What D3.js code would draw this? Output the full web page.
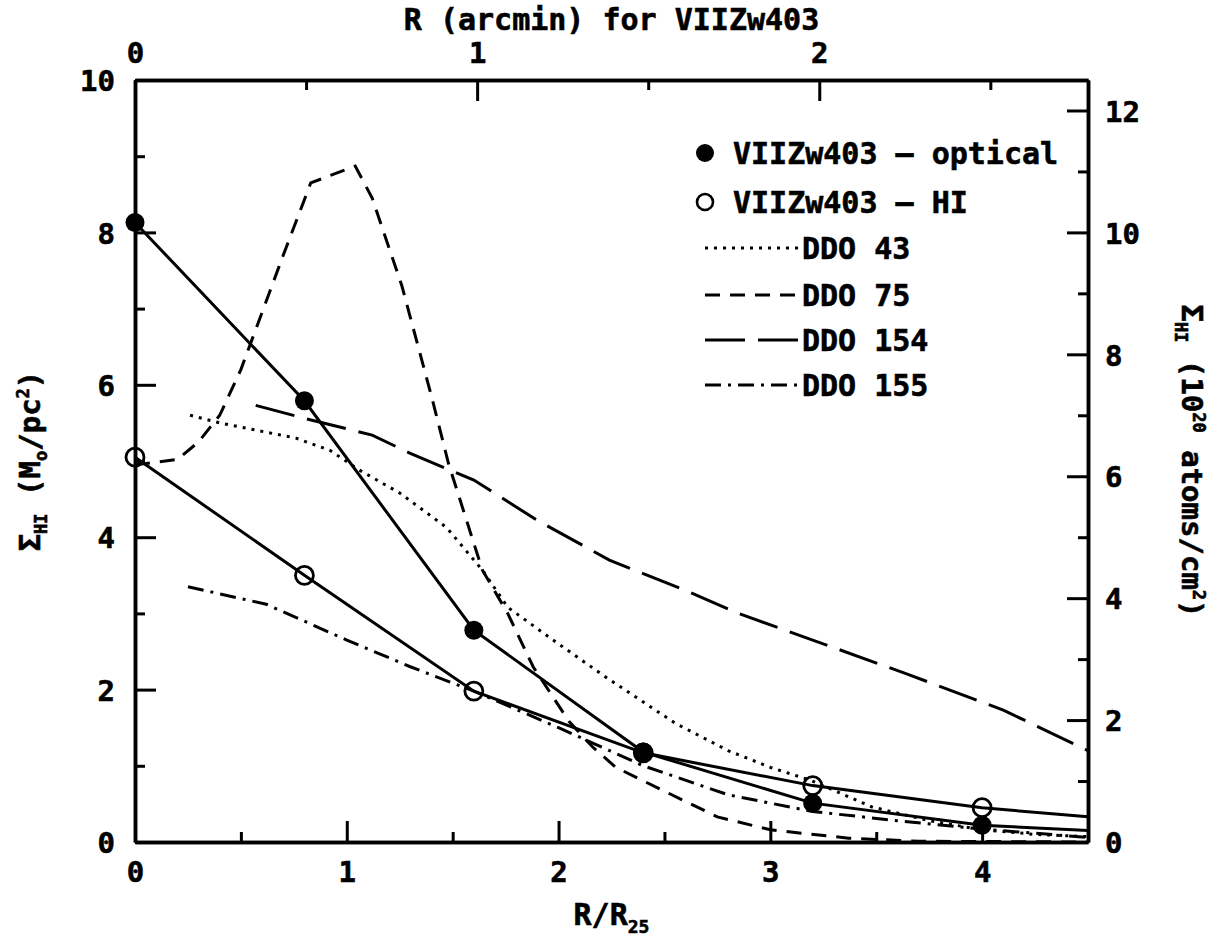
<!DOCTYPE html>
<html><head><meta charset="utf-8">
<script src="https://cdn.jsdelivr.net/npm/d3@7"></script>
<style>
body{margin:0;background:#fff;}
svg text{font-family:"DejaVu Sans Mono",monospace;font-weight:bold;fill:#000;stroke:#000;stroke-width:0.6px;}
</style></head><body>
<svg id="chart" width="1220" height="941"></svg>
<script>
// ---------------- data ----------------
// VIIZw403 optical (filled circles), R/R25 and Sigma_HI (Msun/pc^2)
const opticalR   = [0, 0.8, 1.6, 2.4, 3.2, 4.0, 4.5];
const opticalVal = [8.13, 5.79, 2.78, 1.18, 0.51, 0.22, 0.15];
// VIIZw403 HI (open circles)
const hiR   = [0, 0.8, 1.6, 2.4, 3.2, 4.0, 4.5];
const hiVal = [5.05, 3.5, 1.98, 1.17, 0.74, 0.45, 0.33];
const markerMaxR = 4.0;   // markers are drawn at the measured radii only

const ddo43R   = [0.26, 0.4, 0.76, 0.92, 1.06, 1.25, 1.47, 1.64, 1.76, 2.0, 2.22, 2.55, 2.8, 3.0, 3.19, 3.48, 3.75, 4.0, 4.25, 4.5];
const ddo43Val = [5.6, 5.5, 5.3, 5.14, 4.88, 4.58, 4.13, 3.57, 3.08, 2.6, 2.17, 1.56, 1.2, 0.98, 0.81, 0.46, 0.28, 0.16, 0.1, 0.07];

const ddo75R   = [0, 0.2, 0.3, 0.4, 0.5, 0.6, 0.7, 0.83, 1.04, 1.12, 1.26, 1.4, 1.48, 1.64, 1.76, 1.88, 2.05, 2.16, 2.27, 2.49, 2.75, 3.0, 3.37, 3.7, 4.5];
const ddo75Val = [4.95, 5.02, 5.25, 5.6, 6.2, 6.95, 7.7, 8.65, 8.87, 8.45, 7.3, 5.85, 4.97, 3.57, 3.0, 2.3, 1.58, 1.25, 0.98, 0.68, 0.33, 0.16, 0.05, 0.01, 0.0];

const ddo154R   = [0.57, 0.8, 1.12, 1.3, 1.6, 1.9, 2.24, 2.6, 2.85, 3.2, 3.65, 4.1, 4.5];
const ddo154Val = [5.73, 5.56, 5.34, 5.1, 4.75, 4.22, 3.7, 3.3, 3.0, 2.65, 2.2, 1.73, 1.2];

const ddo155R   = [0.25, 0.62, 1.0, 1.3, 1.6, 2.0, 2.4, 2.8, 3.2, 3.6, 4.0, 4.5];
const ddo155Val = [3.35, 3.12, 2.65, 2.3, 1.98, 1.5, 1.0, 0.62, 0.4, 0.28, 0.17, 0.06];

// axis ticks
const xMajorTicks = [0, 1, 2, 3, 4];
const xMinorTicks = [0.5, 1.5, 2.5, 3.5];
const yMajorTicks = [0, 2, 4, 6, 8, 10];
const yMinorTicks = [1, 3, 5, 7, 9];
const topMajorTicks = [0, 1, 2];
const topMinorTicks = [0.5, 1.5, 2.5];
const rightMajorTicks = [0, 2, 4, 6, 8, 10, 12];
const rightMinorTicks = [1, 3, 5, 7, 9, 11];

const arcminPerR25 = 0.619;     // R (arcmin) for VIIZw403 per unit R/R25
const atomsPerMsun = 1.25;      // 10^20 atoms/cm^2 per Msun/pc^2

const legendLabels = ["VIIZw403 – optical", "VIIZw403 – HI", "DDO 43", "DDO 75", "DDO 154", "DDO 155"];

// ---------------- layout ----------------
const L = 135, R = 1088, T = 80, B = 842;
const svg = d3.select("#chart");
const x = d3.scaleLinear().domain([0, 4.5]).range([L, R]);
const y = d3.scaleLinear().domain([0, 10]).range([B, T]);
const xTop = d3.scaleLinear().domain([0, 4.5 * arcminPerR25]).range([L, R]);
const yRight = d3.scaleLinear().domain([0, 10 * atomsPerMsun]).range([B, T]);

const FS = 29;
function styleAxis(g) {
  g.attr("font-family", null).attr("font-size", null);
  g.select(".domain").attr("stroke", "#000").attr("stroke-width", 3.5);
  g.selectAll(".tick line").attr("stroke", "#000").attr("stroke-width", 3);
  g.selectAll("text").style("font-size", FS + "px");
}
const MAJ = 21, MIN = 10;

// bottom
svg.append("g").attr("transform", `translate(0,${B})`)
  .call(d3.axisBottom(x).tickValues(xMinorTicks).tickSize(-MIN).tickSizeOuter(0).tickFormat(""))
  .call(styleAxis);
const gb = svg.append("g").attr("transform", `translate(0,${B})`)
  .call(d3.axisBottom(x).tickValues(xMajorTicks).tickSize(-MAJ).tickSizeOuter(0).tickFormat(d3.format("d")))
  .call(styleAxis);
gb.selectAll("text").attr("y", 40).attr("dy", 0);

// left
svg.append("g").attr("transform", `translate(${L},0)`)
  .call(d3.axisLeft(y).tickValues(yMinorTicks).tickSize(-MIN).tickSizeOuter(0).tickFormat(""))
  .call(styleAxis);
const gl = svg.append("g").attr("transform", `translate(${L},0)`)
  .call(d3.axisLeft(y).tickValues(yMajorTicks).tickSize(-MAJ).tickSizeOuter(0).tickFormat(d3.format("d")))
  .call(styleAxis);
gl.selectAll("text").attr("x", -20).attr("dy", "0.37em");

// top
svg.append("g").attr("transform", `translate(0,${T})`)
  .call(d3.axisTop(xTop).tickValues(topMinorTicks).tickSize(-MIN).tickSizeOuter(0).tickFormat(""))
  .call(styleAxis);
const gt = svg.append("g").attr("transform", `translate(0,${T})`)
  .call(d3.axisTop(xTop).tickValues(topMajorTicks).tickSize(-MAJ).tickSizeOuter(0).tickFormat(d3.format("d")))
  .call(styleAxis);
gt.selectAll("text").attr("y", -17).attr("dy", 0);

// right
svg.append("g").attr("transform", `translate(${R},0)`)
  .call(d3.axisRight(yRight).tickValues(rightMinorTicks).tickSize(-MIN).tickSizeOuter(0).tickFormat(""))
  .call(styleAxis);
const gr = svg.append("g").attr("transform", `translate(${R},0)`)
  .call(d3.axisRight(yRight).tickValues(rightMajorTicks).tickSize(-MAJ).tickSizeOuter(0).tickFormat(d3.format("d")))
  .call(styleAxis);
gr.selectAll("text").attr("x", 17).attr("dy", "0.37em").attr("text-anchor", "start");

// ---------------- series ----------------
const zip = (rs, vs) => rs.map((r, i) => ({r, v: vs[i]}));
const line = d3.line().x(d => x(d.r)).y(d => y(d.v));
const plot = svg.append("g");

const styles = {
  solid: null,
  dot: "3,6",
  dash: "15,10",
  longdash: "40,13",
  dashdot: "16,7,3,7"
};
const seriesList = [
  {data: zip(opticalR, opticalVal), dash: styles.solid},
  {data: zip(hiR, hiVal), dash: styles.solid},
  {data: zip(ddo43R, ddo43Val), dash: styles.dot},
  {data: zip(ddo75R, ddo75Val), dash: styles.dash},
  {data: zip(ddo154R, ddo154Val), dash: styles.longdash},
  {data: zip(ddo155R, ddo155Val), dash: styles.dashdot}
];
seriesList.forEach(s => {
  plot.append("path").attr("d", line(s.data))
    .attr("fill", "none").attr("stroke", "#000").attr("stroke-width", 3)
    .attr("stroke-dasharray", s.dash);
});

// markers
plot.selectAll("circle.hi").data(zip(hiR, hiVal).filter(d => d.r <= markerMaxR)).enter()
  .append("circle").attr("cx", d => x(d.r)).attr("cy", d => y(d.v)).attr("r", 9)
  .attr("fill", "none").attr("stroke", "#000").attr("stroke-width", 2.8);
plot.selectAll("circle.opt").data(zip(opticalR, opticalVal).filter(d => d.r <= markerMaxR)).enter()
  .append("circle").attr("cx", d => x(d.r)).attr("cy", d => y(d.v)).attr("r", 9.5)
  .attr("fill", "#000");

// ---------------- legend ----------------
const legRows = [153, 202, 248, 295, 340, 385];
const leg = svg.append("g");
legendLabels.forEach((lab, i) => {
  const yy = legRows[i];
  if (i === 0) {
    leg.append("circle").attr("cx", 705).attr("cy", yy).attr("r", 9).attr("fill", "#000");
  } else if (i === 1) {
    leg.append("circle").attr("cx", 705).attr("cy", yy).attr("r", 8).attr("fill", "none")
      .attr("stroke", "#000").attr("stroke-width", 2.6);
  } else {
    leg.append("line").attr("x1", 705).attr("x2", 802).attr("y1", yy).attr("y2", yy)
      .attr("stroke", "#000").attr("stroke-width", 3)
      .attr("stroke-dasharray", seriesList[i].dash);
  }
  leg.append("text").attr("x", i < 2 ? 733 : 802).attr("y", yy + 11)
    .style("font-size", "30px").text(lab);
});

// ---------------- titles ----------------
svg.append("text").attr("x", (L + R) / 2).attr("y", 30).attr("text-anchor", "middle")
  .style("font-size", "30px").text("R (arcmin) for VIIZw403");

const xt = svg.append("text").attr("x", (L + R) / 2).attr("y", 925).attr("text-anchor", "middle")
  .style("font-size", "30px");
xt.append("tspan").text("R/R");
xt.append("tspan").attr("dy", 8).style("font-size", "18px").text("25");

const lt = svg.append("text").attr("transform", `translate(40,${(T + B) / 2}) rotate(-90)`)
  .attr("text-anchor", "middle").style("font-size", "29px");
lt.append("tspan").text("Σ");
lt.append("tspan").attr("dy", 7).style("font-size", "17px").text("HI");
lt.append("tspan").attr("dy", -7).text(" (M");
lt.append("tspan").attr("dy", 7).style("font-size", "17px").text("o");
lt.append("tspan").attr("dy", -7).text("/pc");
lt.append("tspan").attr("dy", -11).style("font-size", "17px").text("2");
lt.append("tspan").attr("dy", 11).text(")");

const rt = svg.append("text").attr("transform", `translate(1182,${(T + B) / 2}) rotate(90)`)
  .attr("text-anchor", "middle").style("font-size", "29px");
rt.append("tspan").text("Σ");
rt.append("tspan").attr("dy", 7).style("font-size", "17px").text("HI");
rt.append("tspan").attr("dy", -7).text(" (10");
rt.append("tspan").attr("dy", -11).style("font-size", "17px").text("20");
rt.append("tspan").attr("dy", 11).text("  atoms/cm");
rt.append("tspan").attr("dy", -11).style("font-size", "17px").text("2");
rt.append("tspan").attr("dy", 11).text(")");
</script>
</body></html>
